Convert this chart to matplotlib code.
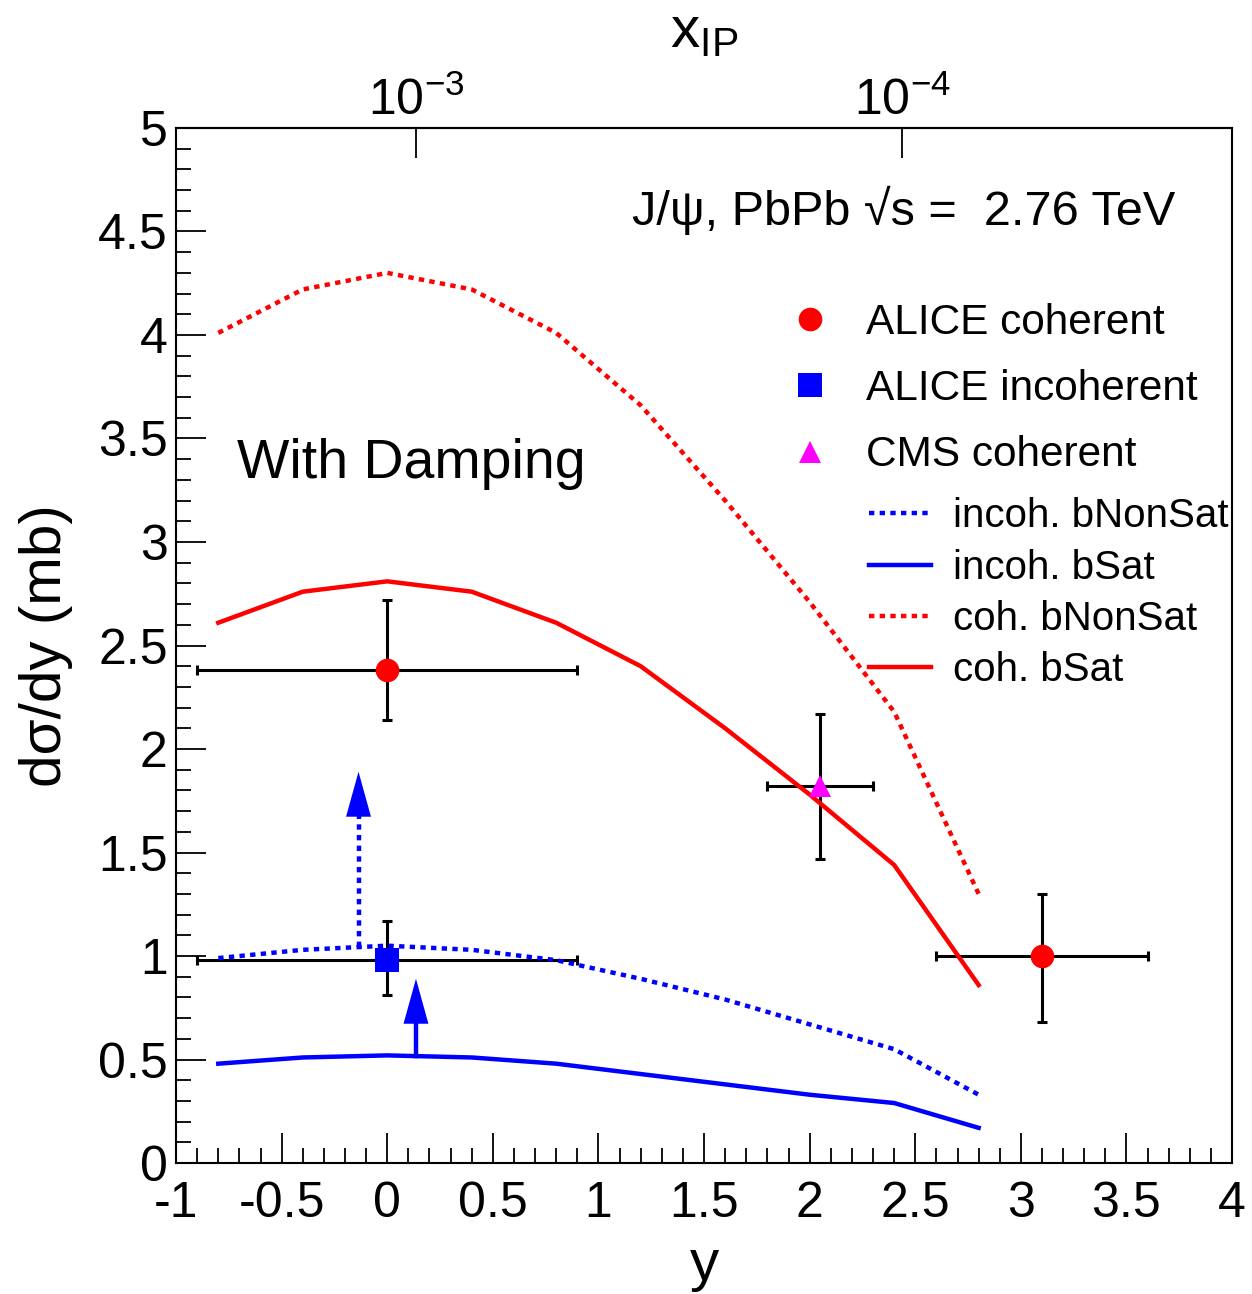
import numpy as np
import matplotlib
matplotlib.use("Agg")
import matplotlib.pyplot as plt
from matplotlib.lines import Line2D
from matplotlib.ticker import FixedLocator, FixedFormatter, MultipleLocator

plt.rcParams["font.family"] = ["Liberation Sans", "DejaVu Sans"]
plt.rcParams["mathtext.fontset"] = "custom"
plt.rcParams["mathtext.rm"] = "Liberation Sans"
plt.rcParams["mathtext.it"] = "Liberation Sans:italic"

# ---- model curves (dsigma/dy in mb) on a rapidity grid ----
rapidity = [-0.8, -0.4, 0.0, 0.4, 0.8, 1.2, 1.6, 2.0, 2.4, 2.8]
incoh_bnonsat = [0.99, 1.03, 1.05, 1.03, 0.98, 0.89, 0.79, 0.67, 0.55, 0.33]
incoh_bsat = [0.48, 0.51, 0.52, 0.51, 0.48, 0.43, 0.38, 0.33, 0.29, 0.17]
coh_bnonsat = [4.01, 4.22, 4.30, 4.22, 4.01, 3.66, 3.20, 2.71, 2.18, 1.30]
coh_bsat = [2.61, 2.76, 2.81, 2.76, 2.61, 2.40, 2.10, 1.78, 1.44, 0.86]

# ---- measurements ----
alice_coh_y = [0.0, 3.1]
alice_coh_yerr = [0.9, 0.5]
alice_coh_val = [2.38, 1.00]
alice_coh_lo = [0.24, 0.32]
alice_coh_hi = [0.34, 0.30]

alice_incoh_y = [0.0]
alice_incoh_yerr = [0.9]
alice_incoh_val = [0.98]
alice_incoh_lo = [0.17]
alice_incoh_hi = [0.19]

cms_coh_y = [2.05]
cms_coh_yerr = [0.25]
cms_coh_val = [1.82]
cms_coh_lo = [0.35]
cms_coh_hi = [0.35]

# ---- arrows from the bSat / bNonSat incoherent curves ----
arrow_pos = [0.136, -0.136]
arrow_tip = [0.89, 1.89]

# ---- axis ticks ----
x_ticks = [-1, -0.5, 0, 0.5, 1, 1.5, 2, 2.5, 3, 3.5, 4]
x_tick_labels = ["-1", "-0.5", "0", "0.5", "1", "1.5", "2", "2.5", "3", "3.5", "4"]
y_ticks = [0, 0.5, 1, 1.5, 2, 2.5, 3, 3.5, 4, 4.5, 5]
y_tick_labels = ["0", "0.5", "1", "1.5", "2", "2.5", "3", "3.5", "4", "4.5", "5"]
xip_ticks = [1e-3, 1e-4]
xip_tick_labels = [r"$10^{-3}$", r"$10^{-4}$"]
XIP_AT_Y0 = 1.146e-3

RED = "#ff0000"
BLUE = "#0000ff"
MAGENTA = "#ff00ff"
TICK_FS = 36
TITLE_FS = 42

fig = plt.figure(figsize=(12.52, 12.94), dpi=100)
ax = fig.add_axes([0.1406, 0.1012, 0.8435, 0.7999])
ax.set_xlim(-1, 4)
ax.set_ylim(0, 5)

dot = (0, (1.2, 1.2))
ax.plot(rapidity, incoh_bnonsat, color=BLUE, lw=3.2, ls=dot, zorder=3)
ax.plot(rapidity, incoh_bsat, color=BLUE, lw=3.2, zorder=3)
ax.plot(rapidity, coh_bnonsat, color=RED, lw=3.2, ls=dot, zorder=3)
ax.plot(rapidity, coh_bsat, color=RED, lw=3.2, zorder=3)

# arrows
curves_for_arrows = [incoh_bsat, incoh_bnonsat]
styles_for_arrows = ["-", dot]
head_len = 0.217
head_w = 0.118
for xpos, tip, curve, ls in zip(arrow_pos, arrow_tip, curves_for_arrows, styles_for_arrows):
    start = np.interp(xpos, rapidity, curve)
    base = tip - head_len
    ax.plot([xpos, xpos], [start, base + 0.01], color=BLUE, lw=3.2, ls=ls, zorder=3)
    ax.arrow(xpos, base, 0, head_len, width=0.0, head_width=head_w, head_length=head_len,
             length_includes_head=True, color=BLUE, lw=0, zorder=3)

eb_kw = dict(ecolor="black", elinewidth=2.2, capsize=3.5, capthick=2.2, ls="none", zorder=2)
ax.errorbar(alice_coh_y, alice_coh_val, xerr=alice_coh_yerr,
            yerr=[alice_coh_lo, alice_coh_hi], **eb_kw)
ax.errorbar(alice_incoh_y, alice_incoh_val, xerr=alice_incoh_yerr,
            yerr=[alice_incoh_lo, alice_incoh_hi], **eb_kw)
ax.errorbar(cms_coh_y, cms_coh_val, xerr=cms_coh_yerr,
            yerr=[cms_coh_lo, cms_coh_hi], **eb_kw)
ax.plot(alice_coh_y, alice_coh_val, ls="none", marker="o", ms=17, color=RED, mew=0, zorder=4)
ax.plot(alice_incoh_y, alice_incoh_val, ls="none", marker="s", ms=17, color=BLUE, mew=0, zorder=4)
ax.plot(cms_coh_y, cms_coh_val, ls="none", marker="^", ms=16, color=MAGENTA, mew=0, zorder=4)

# axes styling
for s in ax.spines.values():
    s.set_linewidth(1.5)
ax.xaxis.set_major_locator(FixedLocator(x_ticks))
ax.xaxis.set_major_formatter(FixedFormatter(x_tick_labels))
ax.yaxis.set_major_locator(FixedLocator(y_ticks))
ax.yaxis.set_major_formatter(FixedFormatter(y_tick_labels))
ax.xaxis.set_minor_locator(MultipleLocator(0.1))
ax.yaxis.set_minor_locator(MultipleLocator(0.1))
ax.tick_params(which="both", direction="in", top=False, right=False, width=1.3)
ax.tick_params(which="major", length=21.5, labelsize=TICK_FS)
ax.tick_params(which="minor", length=10.8)
ax.tick_params(axis="x", which="major", pad=13)
ax.tick_params(axis="y", which="major", pad=6)

ax.set_xlabel("y", fontsize=TITLE_FS)
ax.xaxis.set_label_coords(0.5, -0.072)
ax.set_ylabel("dσ/dy (mb)", fontsize=TITLE_FS)
ax.yaxis.set_label_coords(-0.098, 0.5)

LN10 = np.log(10.0)
def y_to_logx(y):
    return np.log10(XIP_AT_Y0) - np.asarray(y) / LN10

def logx_to_y(l):
    return (np.log10(XIP_AT_Y0) - np.asarray(l)) * LN10

secax = ax.secondary_xaxis("top", functions=(y_to_logx, logx_to_y))
secax.xaxis.set_major_locator(FixedLocator(np.log10(xip_ticks)))
secax.xaxis.set_major_formatter(FixedFormatter(xip_tick_labels))
secax.xaxis.set_minor_locator(FixedLocator([]))
secax.tick_params(which="major", direction="in", length=21.5, width=1.3,
                  labelsize=TICK_FS, pad=2)
secax.spines["top"].set_linewidth(1.5)
secax.set_xlabel(r"$\mathrm{x}_{\mathrm{IP}}$", fontsize=TITLE_FS)
secax.xaxis.set_label_coords(0.5, 1.078, transform=ax.transAxes)

ax.text(0.432, 0.9063, "J/ψ, PbPb √s =  2.76 TeV", transform=ax.transAxes,
        fontsize=35, va="baseline", ha="left")
ax.text(0.0578, 0.662, "With Damping", transform=ax.transAxes,
        fontsize=40, va="baseline", ha="left")

marker_handles = [
    Line2D([], [], ls="none", marker="o", ms=17, color=RED, mew=0),
    Line2D([], [], ls="none", marker="s", ms=17, color=BLUE, mew=0),
    Line2D([], [], ls="none", marker="^", ms=16, color=MAGENTA, mew=0),
]
leg1 = ax.legend(marker_handles, ["ALICE coherent", "ALICE incoherent", "CMS coherent"],
                 loc="upper left", bbox_to_anchor=(0.5805, 0.8310), frameon=False,
                 fontsize=30.5, handlelength=1.0, handletextpad=0.82, labelspacing=0.62,
                 borderpad=0, borderaxespad=0)
ax.add_artist(leg1)

line_handles = [
    Line2D([], [], color=BLUE, lw=3.2, ls=dot),
    Line2D([], [], color=BLUE, lw=3.2),
    Line2D([], [], color=RED, lw=3.2, ls=dot),
    Line2D([], [], color=RED, lw=3.2),
]
ax.legend(line_handles, ["incoh. bNonSat", "incoh. bSat", "coh. bNonSat", "coh. bSat"],
          loc="upper left", bbox_to_anchor=(0.656, 0.643), frameon=False,
          fontsize=29, handlelength=1.55, handletextpad=0.55, labelspacing=0.33,
          borderpad=0, borderaxespad=0)

fig.savefig("out.png", dpi=100)
